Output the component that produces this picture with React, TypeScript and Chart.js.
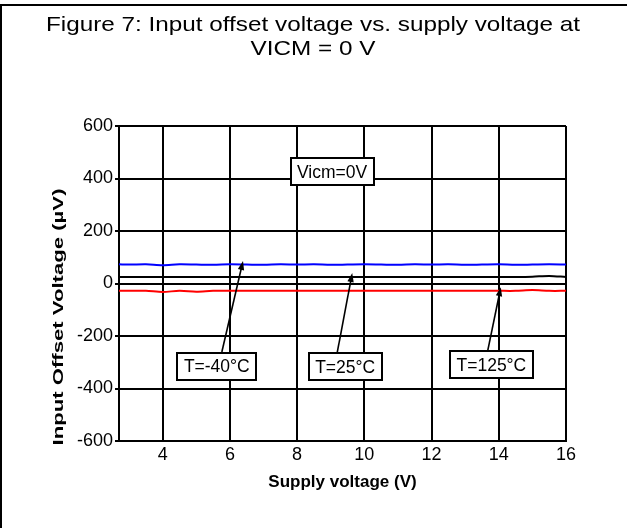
import React, { useEffect, useRef } from 'react';
import { Chart, registerables } from 'chart.js';

Chart.register(...registerables);

// ---- data ----
const titleLines = ['Figure 7: Input offset voltage vs. supply voltage at', 'VICM = 0 V'];
const xAxisTitle = 'Supply voltage (V)';
const yAxisTitle = 'Input Offset Voltage (\u00b5V)';

const supplyVoltage = [2.7, 3.0, 3.5, 4.0, 4.5, 5.0, 5.5, 6.0, 6.5, 7.0, 7.5, 8.0, 8.5, 9.0, 9.5, 10.0, 10.5, 11.0, 11.5, 12.0, 12.5, 13.0, 13.5, 14.0, 14.5, 15.0, 15.5, 16.0];
const offsetTm40 = [73, 72, 73, 70, 73, 72, 71, 73, 72, 71, 73, 72, 73, 71, 72, 73, 72, 71, 73, 72, 73, 71, 72, 73, 71, 72, 73, 72];
const offsetT25 = [25, 25, 25, 25, 25, 25, 25, 25, 25, 25, 25, 25, 25, 25, 25, 25, 25, 25, 25, 25, 25, 25, 25, 25, 25, 26, 29, 25];
const offsetT125 = [-28, -28, -28, -32, -28, -31, -28, -28, -28, -28, -28, -28, -28, -28, -28, -28, -28, -28, -28, -28, -28, -28, -28, -28, -28, -25, -28, -28];

const xTickValues = [4, 6, 8, 10, 12, 14, 16];
const yTickValues = [-600, -400, -200, 0, 200, 400, 600];

// annotation labels: box centre and arrow (data units)
const annotations = [
  { text: 'Vicm=0V', x: 9.04, y: 425, arrow: null as null | number[] },
  { text: 'T=-40\u00b0C', x: 5.61, y: -316, arrow: [5.76, -261, 6.39, 86] },
  { text: 'T=25\u00b0C', x: 9.43, y: -318, arrow: [9.19, -265, 9.64, 40] },
  { text: 'T=125\u00b0C', x: 13.78, y: -310, arrow: [13.67, -257, 14.06, -14] },
];

const FONT = "'Liberation Sans', Arial, Helvetica, sans-serif";

// title layout
const TITLE_CX = 313;
const TITLE_WIDTH = 534;
const TITLE_BASELINES = [31, 55];

const framePlugin = {
  id: 'frame',
  beforeDraw(chart: any) {
    const ctx = chart.ctx;
    ctx.save();
    ctx.fillStyle = '#ffffff';
    ctx.fillRect(0, 0, chart.width, chart.height);
    ctx.strokeStyle = '#000';
    ctx.lineWidth = 2;
    ctx.beginPath();
    ctx.moveTo(0, 5);
    ctx.lineTo(chart.width, 5);
    ctx.moveTo(1, 4);
    ctx.lineTo(1, chart.height);
    ctx.stroke();
    ctx.restore();
  },
  afterDraw(chart: any) {
    const ctx = chart.ctx;
    // title (slightly stretched horizontally like the reference)
    ctx.save();
    ctx.fillStyle = '#000';
    ctx.font = `21px ${FONT}`;
    ctx.textBaseline = 'alphabetic';
    ctx.textAlign = 'center';
    const sx = TITLE_WIDTH / ctx.measureText(titleLines[0]).width;
    titleLines.forEach((line, i) => {
      ctx.save();
      ctx.translate(TITLE_CX, TITLE_BASELINES[i]);
      ctx.scale(sx, 1);
      ctx.fillText(line, 0, 0);
      ctx.restore();
    });
    ctx.restore();
    // y axis title
    ctx.save();
    ctx.translate(58.5, 317);
    ctx.rotate(-Math.PI / 2);
    ctx.font = `bold 15px ${FONT}`;
    const w = ctx.measureText(yAxisTitle).width;
    ctx.scale(257 / w, 1);
    ctx.fillStyle = '#000';
    ctx.textAlign = 'center';
    ctx.textBaseline = 'middle';
    ctx.fillText(yAxisTitle, 0, 0);
    ctx.restore();
  },
};

const annotationPlugin = {
  id: 'labels',
  afterDatasetsDraw(chart: any) {
    const ctx = chart.ctx;
    const xs = chart.scales.x;
    const ys = chart.scales.y;
    ctx.save();
    ctx.font = `17.5px ${FONT}`;
    for (const a of annotations) {
      if (a.arrow) {
        const x1 = xs.getPixelForValue(a.arrow[0]);
        const y1 = ys.getPixelForValue(a.arrow[1]);
        const x2 = xs.getPixelForValue(a.arrow[2]);
        const y2 = ys.getPixelForValue(a.arrow[3]);
        const ang = Math.atan2(y2 - y1, x2 - x1);
        const L = 9;
        const H = 3.2;
        ctx.strokeStyle = '#000';
        ctx.lineWidth = 1.6;
        ctx.beginPath();
        ctx.moveTo(x1, y1);
        ctx.lineTo(x2 - Math.cos(ang) * (L - 1), y2 - Math.sin(ang) * (L - 1));
        ctx.stroke();
        ctx.fillStyle = '#000';
        ctx.beginPath();
        ctx.moveTo(x2, y2);
        ctx.lineTo(x2 - Math.cos(ang) * L - Math.sin(ang) * H, y2 - Math.sin(ang) * L + Math.cos(ang) * H);
        ctx.lineTo(x2 - Math.cos(ang) * L + Math.sin(ang) * H, y2 - Math.sin(ang) * L - Math.cos(ang) * H);
        ctx.closePath();
        ctx.fill();
      }
      const cx = xs.getPixelForValue(a.x);
      const cy = ys.getPixelForValue(a.y);
      const tw = ctx.measureText(a.text).width;
      const bw = Math.round(tw + 13);
      const bh = 27;
      const bx = Math.round(cx - bw / 2);
      const by = Math.round(cy - bh / 2);
      ctx.fillStyle = '#fff';
      ctx.fillRect(bx, by, bw, bh);
      ctx.strokeStyle = '#000';
      ctx.lineWidth = 2;
      ctx.strokeRect(bx, by, bw, bh);
      ctx.fillStyle = '#000';
      ctx.textAlign = 'center';
      ctx.textBaseline = 'middle';
      ctx.fillText(a.text, cx, cy + 1);
    }
    ctx.restore();
  },
};

export default function App() {
  const ref = useRef<HTMLCanvasElement | null>(null);

  useEffect(() => {
    if (!ref.current) return;
    const toPts = (ys: number[]) => supplyVoltage.map((x, i) => ({ x, y: ys[i] }));
    const chart = new Chart(ref.current, {
      type: 'line',
      data: {
        datasets: [
          { label: 'T=-40\u00b0C', data: toPts(offsetTm40), borderColor: '#0000ff', borderWidth: 2, pointRadius: 0, tension: 0.3 },
          { label: 'T=25\u00b0C', data: toPts(offsetT25), borderColor: '#000000', borderWidth: 2, pointRadius: 0, tension: 0.3 },
          { label: 'T=125\u00b0C', data: toPts(offsetT125), borderColor: '#ff0000', borderWidth: 2, pointRadius: 0, tension: 0.3 },
        ],
      },
      options: {
        animation: false,
        responsive: false,
        devicePixelRatio: 1,
        layout: { padding: { top: 126, right: 61, bottom: 0, left: 0 } },
        plugins: {
          legend: { display: false },
          tooltip: { enabled: false },
          title: { display: false },
        },
        scales: {
          x: {
            type: 'linear',
            min: 2.7,
            max: 16,
            afterBuildTicks: (s: any) => {
              s.ticks = xTickValues.map((v) => ({ value: v }));
            },
            afterFit: (s: any) => {
              s.height = 87;
            },
            ticks: { color: '#000', font: { family: FONT, size: 18 }, padding: 3, maxRotation: 0, autoSkip: false },
            grid: { color: '#000', lineWidth: 2, drawTicks: false },
            border: { display: true, color: '#000', width: 2 },
            title: {
              display: true,
              text: xAxisTitle,
              color: '#000',
              font: { family: FONT, size: 17, weight: 'bold' },
              padding: { top: 0, bottom: 35.8 },
            },
          },
          y: {
            min: -600,
            max: 600,
            afterBuildTicks: (s: any) => {
              s.ticks = yTickValues.map((v) => ({ value: v }));
            },
            afterFit: (s: any) => {
              s.width = 119;
            },
            ticks: { color: '#000', font: { family: FONT, size: 18 }, padding: 2 },
            grid: { color: '#000', lineWidth: 2, tickLength: 4 },
            border: { display: true, color: '#000', width: 2 },
          },
        },
      },
      plugins: [framePlugin, annotationPlugin],
    } as any);
    return () => chart.destroy();
  }, []);

  return (
    <div style={{ position: 'absolute', left: 0, top: 0, width: 627, height: 528, background: '#fff' }}>
      <canvas ref={ref} width={627} height={528} style={{ display: 'block', width: 627, height: 528 }} />
    </div>
  );
}
